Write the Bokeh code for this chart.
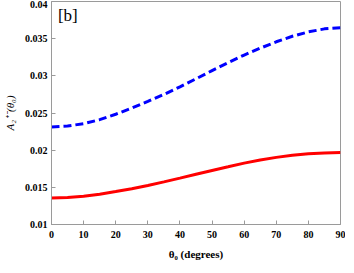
from bokeh.plotting import figure
from bokeh.models import Range1d, FixedTicker, Label
from bokeh.embed import file_html
from bokeh.resources import INLINE

theta = [0, 5, 10, 15, 20, 25, 30, 35, 40, 45, 50, 55, 60, 65, 70, 75, 80, 85, 90]
blue_vals = [0.02313, 0.02324, 0.02357, 0.02410, 0.02483, 0.02566, 0.02656, 0.02750,
             0.02852, 0.02960, 0.03070, 0.03178, 0.03280, 0.03372, 0.03458, 0.03532,
             0.03591, 0.03632, 0.03647]
red_vals = [0.01357, 0.01363, 0.01380, 0.01408, 0.01443, 0.01482, 0.01525, 0.01573,
            0.01624, 0.01676, 0.01727, 0.01776, 0.01826, 0.01868, 0.01903, 0.01931,
            0.01951, 0.01963, 0.01967]

x_ticks = [0, 10, 20, 30, 40, 50, 60, 70, 80, 90]
y_ticks = [0.01, 0.015, 0.02, 0.025, 0.03, 0.035, 0.04]
y_tick_labels = ["0.01", "0.015", "0.02", "0.025", "0.03", "0.035", "0.04"]

FONT = "Liberation Serif"
GRAY = "#9a9a9a"

p = figure(width=345, height=264, output_backend="svg", toolbar_location=None,
           x_range=Range1d(0, 90), y_range=Range1d(0.01, 0.04),
           min_border_left=42, min_border_right=5, min_border_top=1, min_border_bottom=40)
p.grid.visible = False
p.background_fill_color = "white"
p.border_fill_color = "white"
p.outline_line_color = GRAY
p.outline_line_width = 1

p.line(theta, red_vals, line_color="#ff0000", line_width=3)
p.line(theta, blue_vals, line_color="#0000ff", line_width=3, line_dash="8 4")

for ax in (p.xaxis[0], p.yaxis[0]):
    ax.axis_line_color = GRAY
    ax.major_tick_line_color = GRAY
    ax.major_tick_in = 4
    ax.major_tick_out = 0
    ax.minor_tick_line_color = None
    ax.major_label_text_font = FONT
    ax.major_label_text_font_style = "bold"
    ax.major_label_text_font_size = "10px"
    ax.major_label_text_color = "black"
    ax.axis_label_text_font = FONT
    ax.axis_label_text_color = "black"

p.xaxis[0].ticker = FixedTicker(ticks=x_ticks)
p.yaxis[0].ticker = FixedTicker(ticks=y_ticks)
p.yaxis[0].major_label_overrides = {t: s for t, s in zip(y_ticks, y_tick_labels)}
p.xaxis[0].major_label_standoff = 6
p.yaxis[0].major_label_standoff = 4

p.xaxis[0].axis_label = "θ₀ (degrees)"
p.xaxis[0].axis_label_text_font_style = "bold"
p.xaxis[0].axis_label_text_font_size = "11px"
p.xaxis[0].axis_label_standoff = 7

p.yaxis[0].axis_label = "A₂⁺⁻(θ₀)"
p.yaxis[0].axis_label_text_font_style = "italic"
p.yaxis[0].axis_label_text_font_size = "11px"
p.yaxis[0].axis_label_standoff = 6

p.add_layout(Label(x=2.0, y=0.0394, text="[b]", text_font=FONT, text_font_size="17px",
                   text_baseline="top", text_align="left", text_color="black"))

open("out.html", "w").write(file_html(p, INLINE))
